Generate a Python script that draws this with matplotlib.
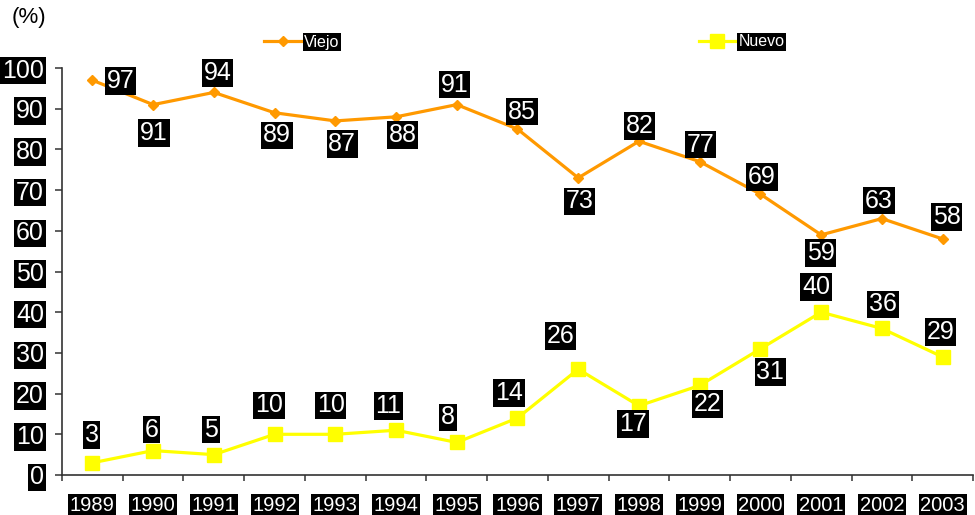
import matplotlib
matplotlib.use("Agg")
import matplotlib.pyplot as plt
import numpy as np

plt.rcParams['font.family'] = ['Liberation Sans', 'DejaVu Sans']

years = ['1989', '1990', '1991', '1992', '1993', '1994', '1995', '1996',
         '1997', '1998', '1999', '2000', '2001', '2002', '2003']
viejo = [97, 91, 94, 89, 87, 88, 91, 85, 73, 82, 77, 69, 59, 63, 58]
nuevo = [3, 6, 5, 10, 10, 11, 8, 14, 26, 17, 22, 31, 40, 36, 29]
series_names = ['Viejo', 'Nuevo']
yticks = list(range(0, 101, 10))

# label offsets in pixels (dx right, dy down)
viejo_off = [(28, 1), (1, 28.5), (3.5, -19.4), (2.5, 22.5), (7, 23), (6.5, 18),
             (-2.5, -20), (4.5, -17.5), (1.5, 23.5), (0.5, -15.5), (0.5, -17),
             (1.5, -17), (-0.5, 18), (-3, -18), (4, -22)]
nuevo_off = [(-0.7, -28), (-1.3, -21), (-3, -25), (-5.5, -29), (-4.5, -29),
             (-7.5, -24), (-9, -25), (-8.5, -25), (-17.5, -33), (-6, 18),
             (8, 18.5), (10, 23), (-5, -25), (1, -24), (-2, -25)]

ORANGE = '#FF9900'
YELLOW = '#FFFF00'

fig = plt.figure(figsize=(9.75, 5.15), dpi=100)
ax = fig.add_axes([62 / 975, 40 / 515, 911 / 975, 407 / 515])

x = np.arange(len(years))
l1, = ax.plot(x, viejo, color=ORANGE, lw=2.3, marker='D', ms=5,
              mfc=ORANGE, mec=ORANGE, label=series_names[0], clip_on=False, zorder=3)
l2, = ax.plot(x, nuevo, color=YELLOW, lw=2.3, marker='s', ms=9.5,
              mfc=YELLOW, mec=YELLOW, label=series_names[1], clip_on=False, zorder=3)

ax.set_xlim(-0.5, len(years) - 0.5)
ax.set_ylim(0, 100)

for s in ['top', 'right']:
    ax.spines[s].set_visible(False)
for s in ['left', 'bottom']:
    ax.spines[s].set_color('#333333')
    ax.spines[s].set_linewidth(1.2)

box = dict(facecolor='black', edgecolor='none', pad=1.3)

ax.set_yticks(yticks)
ax.set_yticklabels([str(v) for v in yticks])
ax.tick_params(axis='y', direction='out', length=5, width=1.1, pad=8,
               labelsize=18, labelcolor='white', color='#333333')
for t in ax.get_yticklabels():
    t.set_bbox(box)

ax.set_xticks(np.arange(-0.5, len(years), 1.0))
ax.set_xticklabels([])
ax.set_xticks(x, minor=True)
ax.set_xticklabels(years, minor=True)
ax.tick_params(axis='x', which='major', direction='out', length=4.5, width=1.1,
               color='#333333')
ax.tick_params(axis='x', which='minor', length=0, pad=15, labelsize=14.5,
               labelcolor='white')
for t in ax.get_xticklabels(minor=True):
    t.set_bbox(dict(facecolor='black', edgecolor='none', pad=1.2))

for vals, offs in [(viejo, viejo_off), (nuevo, nuevo_off)]:
    for i, (v, (dx, dy)) in enumerate(zip(vals, offs)):
        ax.annotate(str(v), xy=(i, v), xytext=(dx * 0.72, -dy * 0.72),
                    textcoords='offset points', ha='center', va='center',
                    fontsize=18, color='white', bbox=box, zorder=5,
                    annotation_clip=False)

fig.text(29 / 975, 1 - 18 / 515, '(%)', ha='center', va='center', fontsize=16,
         color='black')

leg = fig.legend(handles=[l1, l2], loc='center', ncol=2,
                 bbox_to_anchor=(524.5 / 975, 1 - 42 / 515), frameon=False,
                 fontsize=11.5, handlelength=2.3, handletextpad=0.2,
                 columnspacing=22.5, borderpad=0, borderaxespad=0)
for t in leg.get_texts():
    t.set_color('white')
    t.set_bbox(dict(facecolor='black', edgecolor='none', pad=1.0))

fig.savefig('out.png', dpi=100)
